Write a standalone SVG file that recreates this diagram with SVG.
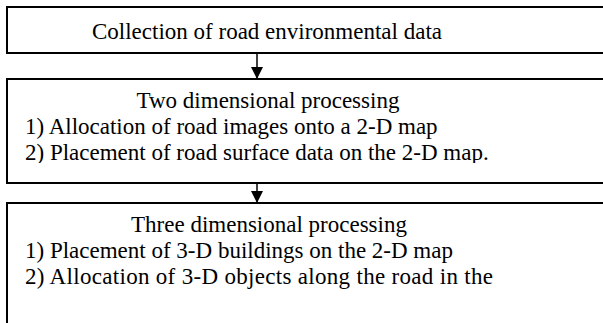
<svg xmlns="http://www.w3.org/2000/svg" width="603" height="323" viewBox="0 0 603 323">
<style>
.box{fill:#fff;stroke:#000;stroke-width:2}
.t{font-family:"Liberation Serif","Times New Roman",serif;font-size:23px;fill:#000}
.c{text-anchor:middle}
.ln{stroke:#000;stroke-width:1.5;fill:none}
</style>
<defs>
<marker id="ah" viewBox="0 0 12 12" refX="12" refY="6" markerWidth="12" markerHeight="12" markerUnits="userSpaceOnUse" orient="auto">
<path d="M0,0 L12,6 L0,12 Z" fill="#000"/>
</marker>
<clipPath id="c2"><rect x="8" y="80" width="600" height="83"/></clipPath>
</defs>
<g id="node1">
<rect class="box" x="7" y="7" width="606" height="46"/>
<text class="t c" x="267" y="39">Collection of road environmental data</text>
</g>
<g id="node2">
<rect class="box" x="7" y="79" width="606" height="104"/>
<g clip-path="url(#c2)">
<text class="t c" x="268" y="108">Two dimensional processing</text>
<text class="t" x="25" y="134">1) Allocation of road images onto a 2-D map</text>
<text class="t" x="25" y="160">2) Placement of road surface data on the 2-D map.</text>
</g>
</g>
<g id="node3">
<rect class="box" x="7" y="203" width="606" height="140"/>
<text class="t c" x="269" y="232">Three dimensional processing</text>
<text class="t" x="25" y="258">1) Placement of 3-D buildings on the 2-D map</text>
<text class="t" x="25" y="284" textLength="468" lengthAdjust="spacing">2) Allocation of 3-D objects along the road in the</text>
</g>
<g id="connectors">
<line class="ln" x1="257" y1="53" x2="257" y2="79" marker-end="url(#ah)"/>
<line class="ln" x1="257" y1="183" x2="257" y2="203" marker-end="url(#ah)"/>
</g>
</svg>
